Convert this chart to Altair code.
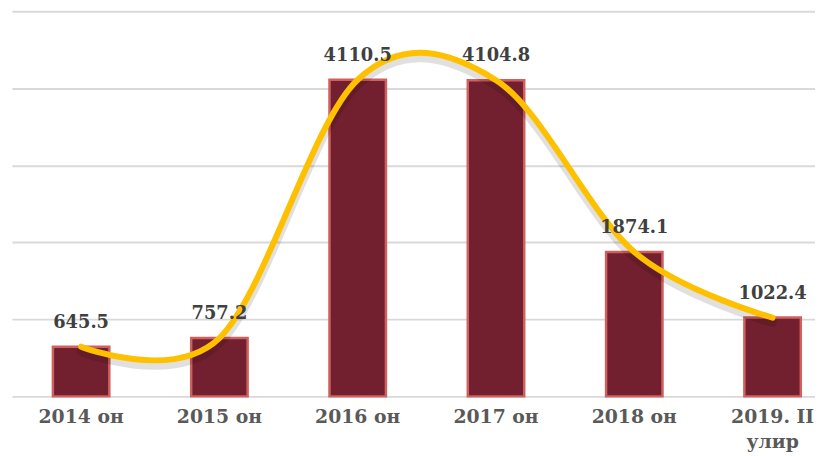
import altair as alt
import pandas as pd

categories = ["2014 он", "2015 он", "2016 он", "2017 он", "2018 он", "2019. II улир"]
values = [645.5, 757.2, 4110.5, 4104.8, 1874.1, 1022.4]
labels = ["645.5", "757.2", "4110.5", "4104.8", "1874.1", "1022.4"]

df = pd.DataFrame({"cat": categories, "val": values, "lab": labels})

x = alt.X("cat:N", sort=categories, title=None,
          scale=alt.Scale(range=[0, 838], paddingInner=0, paddingOuter=0),
          axis=alt.Axis(domain=False, ticks=False, labelAngle=0,
                        labelFont="DejaVu Serif", labelFontWeight="bold",
                        labelFontSize=19, labelColor="#595959",
                        labelPadding=11, labelLineHeight=26,
                        labelExpr="datum.label == '2019. II улир' ? ['2019. II', 'улир'] : datum.label"))
y = alt.Y("val:Q", title=None,
          scale=alt.Scale(domain=[0, 5000], nice=False),
          axis=alt.Axis(values=[0, 1000, 2000, 3000, 4000, 5000], labels=False,
                        ticks=False, domain=False, grid=True,
                        gridColor="#d9d9d9", gridWidth=2))

base = alt.Chart(df)

bars = base.mark_bar(size=57, color="#722030", stroke="#d0605e", strokeWidth=2.5).encode(x=x, y=y)

xs = alt.X("cat:N", sort=categories)
shadow_line = base.mark_line(interpolate="cardinal", color="#000000", opacity=0.12,
                             strokeWidth=9, yOffset=5, strokeCap="round").encode(x=xs, y="val:Q")
line = base.mark_line(interpolate="cardinal", color="#FFC000", strokeWidth=6,
                      strokeCap="round").encode(x=xs, y="val:Q")

text = base.mark_text(font="DejaVu Serif", fontWeight="bold", fontSize=18,
                      color="#404040", baseline="bottom", dy=-15).encode(
    x=xs, y="val:Q", text="lab:N")

chart = alt.layer(bars, shadow_line, line, text).properties(
    width=811, height=389,
    autosize=alt.AutoSizeParams(type="none"),
    padding={"left": 4, "top": 1, "right": 0, "bottom": 58},
    background="#ffffff",
).configure_view(stroke=None)

chart.save("out.html", embed_options={"renderer": "svg", "actions": False})
